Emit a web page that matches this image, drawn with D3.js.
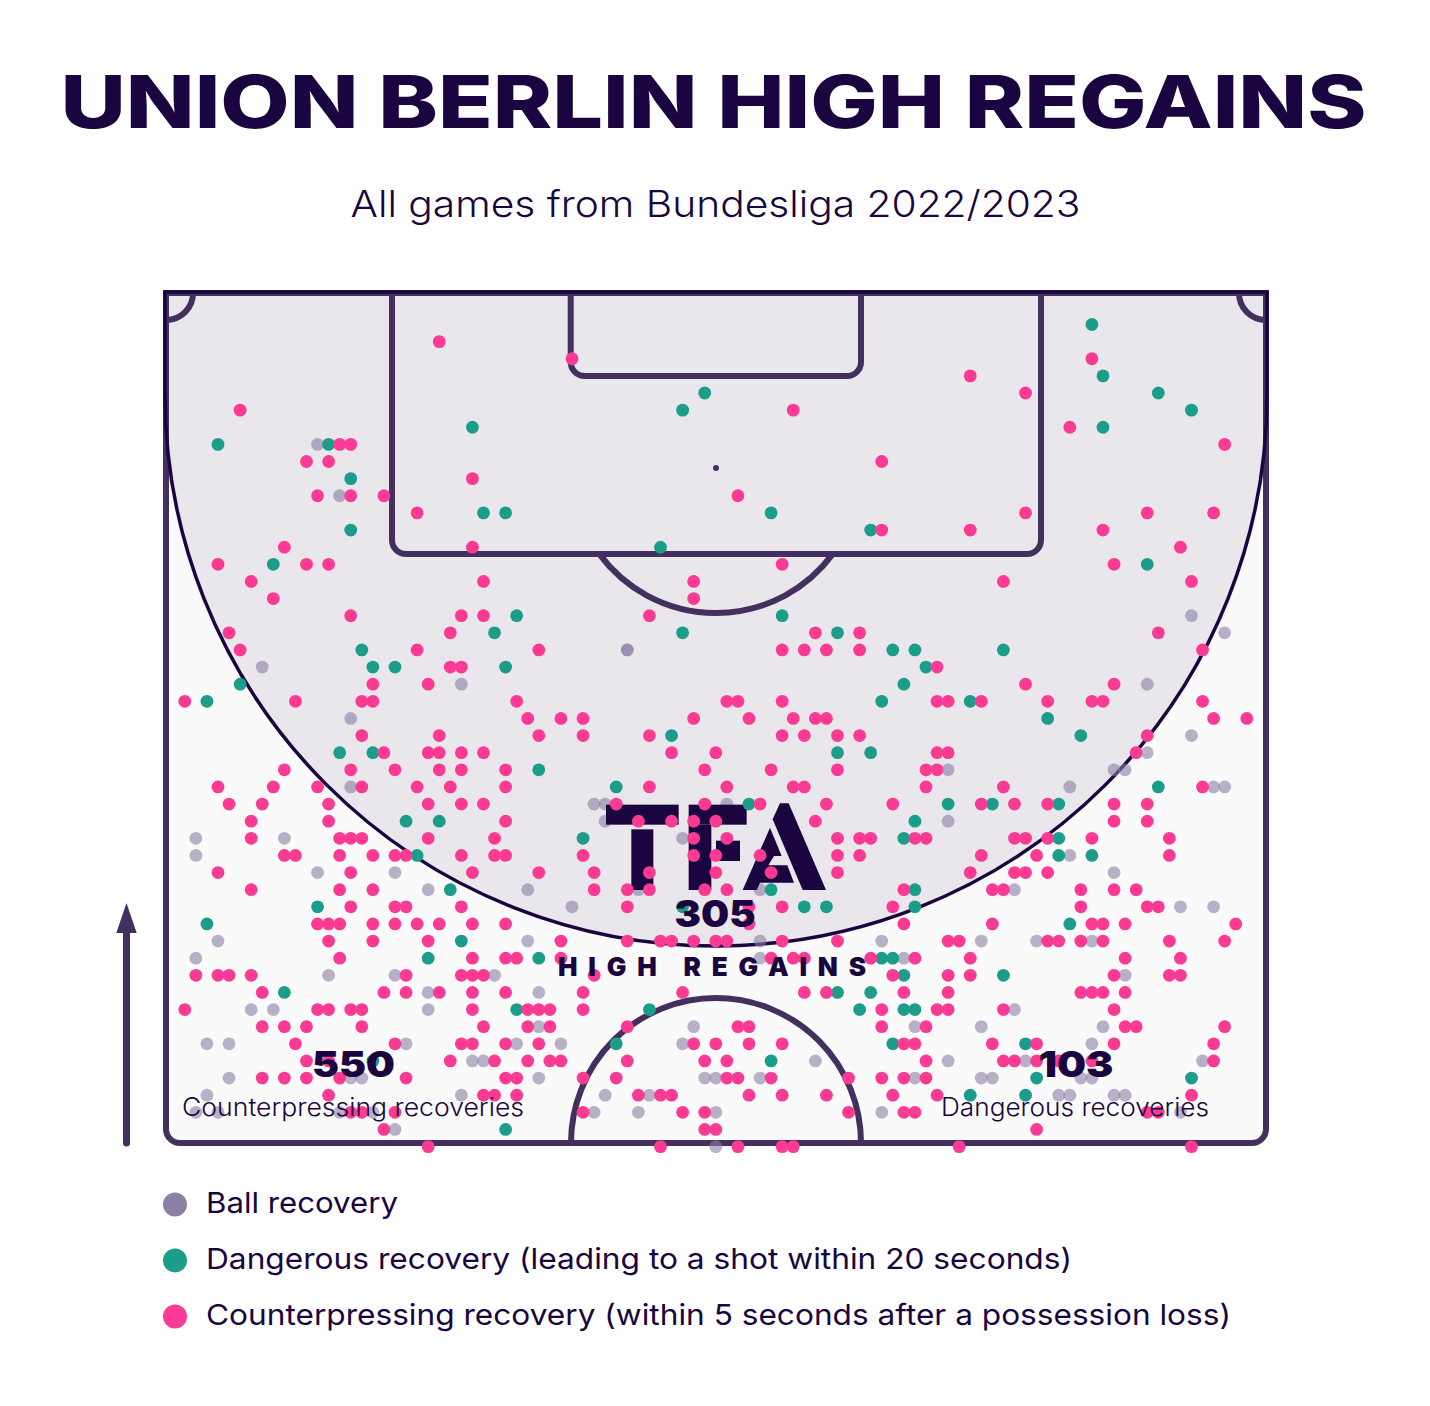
<!DOCTYPE html>
<html><head><meta charset="utf-8">
<script src="https://cdn.jsdelivr.net/npm/d3@7/dist/d3.min.js"></script>
<style>html,body{margin:0;padding:0;background:#fff}svg{display:block}</style>
</head><body><div id="chart"></div>
<script>
const titleText = "UNION BERLIN HIGH REGAINS";
const subtitleText = "All games from Bundesliga 2022/2023";
const legendLabels = ["Ball recovery","Dangerous recovery (leading to a shot within 20 seconds)","Counterpressing recovery (within 5 seconds after a possession loss)"];
const totals = {regains:305, counterpressing:550, dangerous:103};

// Each row: [depth from goal line, [across-pitch positions]]
const ballRecoveries = [
[9,[14]],[12,[16]],[19,[93]],[20,[96]],[21,[42,42]],[22,[9]],[23,[27,89]],[25,[17]],[26,[93]],[27,[89]],
[28,[71,86,87]],[29,[17,82,95,96]],[30,[39,40,51]],[31,[40,71]],[32,[3,11,47]],[33,[3,82]],[34,[14,21,86]],
[35,[24,33,43,54,77]],[36,[37,92,95]],[38,[5,33,54,65,74,79,84]],[39,[3,54,67]],[40,[15,21,30,87]],[41,[24,34]],
[42,[8,10,24,77]],[43,[34,48,68,74,85]],[44,[4,6,22,32,36,47,84]],[45,[28,29,59,71,78,94]],
[46,[6,17,18,34,49,50,54,68,74,75,83,84]],[47,[4,27,40,44,81,82,86,87]],[48,[3,5,16,19,39,43,50,65,92]],[49,[21]],[50,[50]]];
const dangerousRecoveries = [
[2,[84]],[5,[85]],[6,[49,90]],[7,[47,93]],[8,[28,85]],[9,[5,15]],[11,[17]],[13,[29,31,55]],[14,[17,64]],[15,[45]],[16,[10,89]],
[19,[32,56]],[20,[30,47,61]],[21,[18,66,68,76]],[22,[19,21,31,69]],[23,[7,67]],[24,[4,65,73]],[25,[80]],[26,[46,83]],
[27,[16,19,61,64]],[28,[34]],[29,[41,90]],[30,[53,71,75,81]],[31,[22,25,68]],[32,[38,67,81]],[33,[23,81,84]],[35,[26,55,68]],
[36,[14,47,58,60,68]],[37,[4,82]],[38,[27]],[39,[24,34,65,66]],[40,[67,76]],[41,[11,61,64]],[42,[32,44,63,67,68]],
[44,[41,66,78]],[45,[19,55]],[46,[79,93]],[47,[73,78]],[49,[31]]];
const counterpressingRecoveries = [
[3,[25]],[4,[37,84]],[5,[73]],[6,[78]],[7,[7,57]],[8,[82]],[9,[16,17,96]],[10,[13,15,65]],[11,[28]],[12,[14,17,20,52]],
[13,[23,78,89,95]],[14,[65,73,85]],[15,[11,28,92]],[16,[5,13,15,56,86]],[17,[8,29,48,76,93]],[18,[10,48]],[19,[17,27,29,44]],
[20,[6,26,59,63,90]],[21,[7,23,34,56,58,60,63,94]],[22,[26,27,70]],[23,[19,24,78,86]],
[24,[2,12,18,19,32,51,52,56,70,71,74,80,84,85,94]],[25,[33,36,38,48,53,57,59,60,95,98]],[26,[18,25,34,38,44,56,58,61,63,89]],
[27,[20,24,25,27,29,46,50,70,71,88]],[28,[11,17,21,25,27,31,49,55,61,69,70]],[29,[5,10,14,18,23,26,31,44,51,57,58,69,76,94]],
[30,[6,9,15,24,27,29,41,49,54,60,66,74,77,80,86,89]],[31,[8,15,31,43,46,48,50,59,86,89]],
[32,[8,16,17,18,24,30,48,51,61,63,64,68,69,77,78,80,84,91]],[33,[11,12,16,19,21,22,27,30,31,38,48,50,54,61,63,74,79,91]],
[34,[5,17,28,34,39,44,50,55,61,73,77,78,80]],[35,[8,16,19,39,42,44,49,51,67,75,76,83,86,88]],[36,[17,21,22,27,42,53,56,66,83,89,90]],
[37,[14,15,16,19,21,23,25,28,31,53,67,75,84,85,87,97]],[38,[15,19,24,36,42,45,46,48,50,51,56,61,71,72,80,81,83,85,91,96]],
[39,[16,28,31,32,36,55,57,58,64,68,73,87,92]],[40,[3,5,6,8,22,27,28,29,39,66,71,73,86,91,92]],
[41,[9,20,22,25,28,31,38,47,58,60,67,71,83,84,85,87]],[42,[2,14,15,17,18,28,33,34,35,38,65,70,71,76,86]],
[43,[9,11,13,18,29,33,35,42,52,53,65,69,87,88,96]],[44,[12,21,27,28,31,34,48,50,53,56,67,68,75,79,86,95]],
[45,[13,15,26,30,33,35,36,42,49,51,69,76,77,79,81,84,95]],[46,[9,11,13,16,22,31,32,38,41,51,52,55,62,65,67,69]],
[47,[15,29,30,32,43,45,46,53,56,60,66,70,93]],[48,[17,18,21,38,47,49,62,67,68,89,90]],[49,[20,49,50,79]],[50,[24,45,52,56,57,72,93]]];

const INK="#1a0540", LINE="#43305f", PINK="#fb3b93", TEAL="#1b9d8a", GREY="#8b7fa3";
const W=1430,H=1406;
const svg=d3.select("#chart").append("svg").attr("width",W).attr("height",H).attr("viewBox",`0 0 ${W} ${H}`);
const sans="Inter, 'Open Sans', sans-serif";
const x=d3.scaleLinear().domain([2,98]).range([184.8,1246.8]);
const y=d3.scaleLinear().domain([2,50]).range([324.5,1146.6]);
const flat=rows=>rows.flatMap(([d,xs])=>xs.map(v=>({x:v,y:d})));

function txt(t,px,py,size,weight,opts={}){
  const el=svg.append("text").attr("x",px).attr("y",py).attr("font-family",sans).attr("font-size",size)
   .attr("font-weight",weight).attr("fill",opts.fill||INK).attr("text-anchor",opts.anchor||"middle").text(t);
  if(opts.len){el.attr("textLength",opts.len).attr("lengthAdjust",opts.adj||"spacingAndGlyphs");}
  return el;
}
txt(titleText,713.5,128,73.3,800,{len:1306});
txt(subtitleText,715.5,217,36.7,300,{len:730});

// pitch
const L=166,R=1266,T=293,B=1143,r=14,cx=716;
const rounded=`M${L},${T}H${R}V${B-r}A${r},${r} 0 0 1 ${R-r},${B}H${L+r}A${r},${r} 0 0 1 ${L},${B-r}Z`;
svg.append("path").attr("d",rounded).attr("fill","#fafafa");
const zone=`M${L},${T}H${R}V395A550,551 0 0 1 ${L},395Z`;
svg.append("path").attr("d",zone).attr("fill","#e9e6ec");
const g=svg.append("g").attr("fill","none").attr("stroke",LINE).attr("stroke-width",6);
g.append("path").attr("d",`M392,${T}V540A14,14 0 0 0 406,554H1027A14,14 0 0 0 1041,540V${T}`);
g.append("path").attr("d",`M570.7,${T}V362A14,14 0 0 0 584.7,376H847A14,14 0 0 0 861,362V${T}`);
const arcGen=d3.arc();
g.append("path").attr("transform",`translate(${cx},468)`).attr("d",arcGen({innerRadius:145,outerRadius:145,startAngle:Math.PI/2+0.634,endAngle:3*Math.PI/2-0.634}));
g.append("path").attr("transform",`translate(${cx},${B})`).attr("d",arcGen({innerRadius:145,outerRadius:145,startAngle:-Math.PI/2,endAngle:Math.PI/2}));
g.append("path").attr("transform",`translate(${L},${T})`).attr("d",arcGen({innerRadius:27,outerRadius:27,startAngle:Math.PI/2,endAngle:Math.PI}));
g.append("path").attr("transform",`translate(${R},${T})`).attr("d",arcGen({innerRadius:27,outerRadius:27,startAngle:Math.PI,endAngle:3*Math.PI/2}));
g.append("path").attr("d",rounded);
svg.append("path").attr("d",`M${L-1},${T-1}H${R+1}V395A551,551 0 0 1 ${L-1},395Z`).attr("fill","none").attr("stroke",INK).attr("stroke-width",3.5);
svg.append("circle").attr("cx",cx).attr("cy",468).attr("r",3).attr("fill",LINE);

// arrow
svg.append("path").attr("d","M126.5,1143V930").attr("stroke",LINE).attr("stroke-width",7).attr("stroke-linecap","round").attr("fill","none");
svg.append("path").attr("d","M126.5,903L136.7,933H116.3Z").attr("fill",LINE);

function dots(rows,fill,op){
  svg.append("g").selectAll("circle").data(flat(rows)).join("circle")
   .attr("cx",d=>x(d.x)).attr("cy",d=>y(d.y)).attr("r",6.4).attr("fill",fill).attr("opacity",op);
}
dots(ballRecoveries,GREY,0.6);

// logo
const logo=svg.append("g").attr("fill",INK).attr("transform","translate(550,780) scale(0.33333)");
[[168,74,218,60],[244,148,66,182],[416,74,174,60],[416,134,68,196],[498,182,72,61]].forEach(a=>
  logo.append("rect").attr("x",a[0]).attr("y",a[1]).attr("width",a[2]).attr("height",a[3]));
logo.append("path").attr("d","M690,70H716L828,330H758L668,118Z");
logo.append("path").attr("d","M578,330L660,143L695,228H672L655,256H712L732,308H630L620,330Z");

dots(dangerousRecoveries,TEAL,1);
dots(counterpressingRecoveries,PINK,1);

// overlays
txt(totals.regains,715,927,37,900,{len:81});
txt("HIGH REGAINS",712,976,26,900,{len:308,adj:"spacing"});
txt(totals.counterpressing,353.5,1077,36,900,{len:83});
txt("Counterpressing recoveries",353,1116,25,300,{len:342});
txt(totals.dangerous,1076,1077,36,900,{len:75});
txt("Dangerous recoveries",1075,1116,25,300,{len:268});

// legend
const legendColor=d3.scaleOrdinal().domain(legendLabels).range([GREY,TEAL,PINK]);
const legendY=d3.scalePoint().domain(legendLabels).range([1204.5,1316.5]);
const legendLen=[192,866,1025];
legendLabels.forEach((l,i)=>{
  svg.append("circle").attr("cx",175).attr("cy",legendY(l)).attr("r",12).attr("fill",legendColor(l));
  txt(l,206,legendY(l)+8,29,400,{anchor:"start",len:legendLen[i]});
});
</script></body></html>
